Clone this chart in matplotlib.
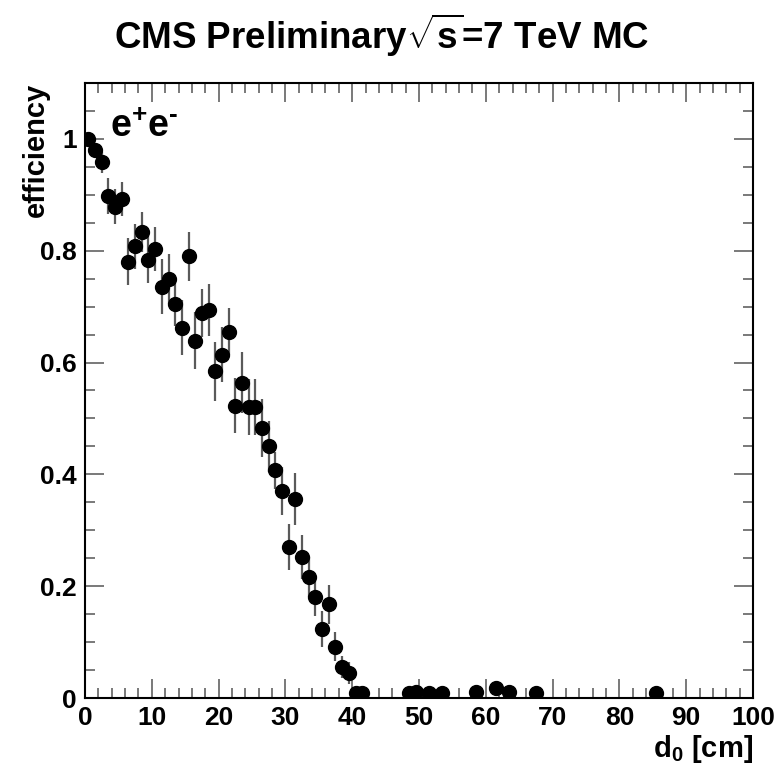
# Efficiency vs d0 (CMS style plot)
import matplotlib
matplotlib.use('Agg')
import matplotlib.pyplot as plt
from matplotlib.ticker import MultipleLocator, FormatStrFormatter

plt.rcParams['font.family'] = ['Liberation Sans', 'DejaVu Sans']
plt.rcParams['font.weight'] = 'bold'
plt.rcParams['mathtext.fontset'] = 'custom'
plt.rcParams['mathtext.rm'] = 'Liberation Sans:bold'
plt.rcParams['mathtext.it'] = 'Liberation Sans:bold'
plt.rcParams['mathtext.bf'] = 'Liberation Sans:bold'

# Data
d0 = [0.5, 1.5, 2.5, 3.5, 4.5, 5.5, 6.5, 7.5, 8.5, 9.5, 10.5, 11.5, 12.5, 13.5,
      14.5, 15.5, 16.5, 17.5, 18.5, 19.5, 20.5, 21.5, 22.5, 23.5, 24.5, 25.5,
      26.5, 27.5, 28.5, 29.5, 30.5, 31.5, 32.5, 33.5, 34.5, 35.5, 36.5, 37.5,
      38.5, 39.5, 40.5, 41.5, 48.5, 49.5, 51.5, 53.5, 58.5, 61.5, 63.5, 67.5,
      85.5]
efficiency = [1.0, 0.98, 0.958, 0.898, 0.879, 0.893, 0.780, 0.808, 0.834, 0.784,
              0.803, 0.736, 0.749, 0.705, 0.662, 0.790, 0.639, 0.688, 0.694, 0.584,
              0.614, 0.655, 0.523, 0.564, 0.520, 0.520, 0.483, 0.450, 0.407, 0.371,
              0.270, 0.356, 0.252, 0.217, 0.181, 0.123, 0.168, 0.092, 0.056, 0.045,
              0.0095, 0.0095, 0.0095, 0.011, 0.0095, 0.0095, 0.010, 0.017, 0.011,
              0.0095, 0.0095]
error = [0.0, 0.012, 0.019, 0.032, 0.031, 0.030, 0.042, 0.040, 0.036, 0.042,
         0.039, 0.050, 0.045, 0.040, 0.049, 0.044, 0.051, 0.043, 0.046, 0.052,
         0.049, 0.042, 0.049, 0.054, 0.050, 0.050, 0.052, 0.045, 0.033, 0.043,
         0.041, 0.047, 0.040, 0.036, 0.035, 0.032, 0.035, 0.026, 0.020, 0.020,
         0.008, 0.008, 0.008, 0.009, 0.008, 0.008, 0.009, 0.012, 0.009, 0.008,
         0.008]

fig = plt.figure(figsize=(7.8, 7.66), dpi=100)
ax = fig.add_axes([85 / 780, 1 - 698 / 766, 668 / 780, 615 / 766])

# Points with error bars
ax.errorbar(d0, efficiency, yerr=error, fmt='o', color='black', markersize=10,
            ecolor='#5a5a5a', elinewidth=1.6, capsize=0, zorder=3)

# Axes setup
ax.set_xlim(0, 100)
ax.set_ylim(0, 1.1)
ax.xaxis.set_major_locator(MultipleLocator(10))
ax.xaxis.set_minor_locator(MultipleLocator(2))
ax.yaxis.set_major_locator(MultipleLocator(0.2))
ax.yaxis.set_minor_locator(MultipleLocator(0.05))
ax.yaxis.set_major_formatter(FormatStrFormatter('%g'))
ax.tick_params(which='both', direction='in', top=True, right=True,
               color='#555555', width=1.1, labelsize=19, pad=6)
ax.tick_params(which='major', length=13.7)
ax.tick_params(which='minor', length=7.2)
for s in ax.spines.values():
    s.set_linewidth(1.5)

# Labels
ax.set_xlabel('d$_{0}$ [cm]', fontsize=21, fontweight='bold', loc='right', labelpad=2)
ax.set_ylabel('efficiency', fontsize=21, fontweight='bold', loc='top')
ax.yaxis.set_label_coords(-0.052, 1.0)

ax.text(0.037, 0.913, r'e$^{+}$e$^{\text{-}}$', transform=ax.transAxes, fontsize=27,
        fontweight='bold', va='baseline', ha='left')

fig.text(0.489, 0.936, r'CMS Preliminary$\sqrt{s}$=7 TeV MC', fontsize=26.5,
         fontweight='bold', ha='center', va='baseline')

plt.savefig('out.png', dpi=100)
